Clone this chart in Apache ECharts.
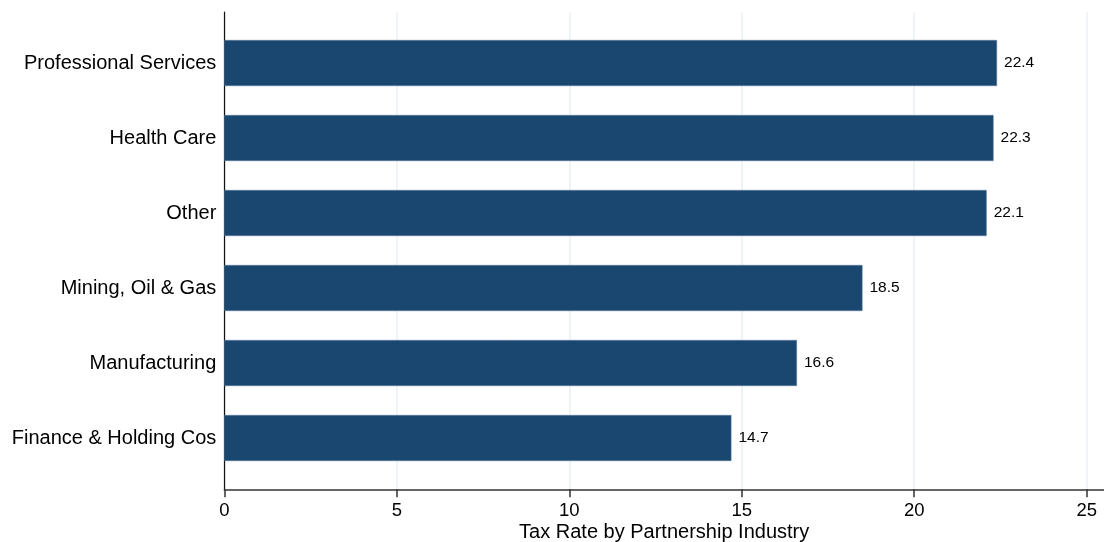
<!DOCTYPE html>
<html>
<head>
<meta charset="utf-8">
<script src="https://cdn.jsdelivr.net/npm/echarts@6/dist/echarts.min.js"></script>
<style>html,body{margin:0;padding:0;background:#fff}#c{width:1104px;height:542px}</style>
</head>
<body>
<div id="c"></div>
<script>
const categories = ["Professional Services", "Health Care", "Other", "Mining, Oil & Gas", "Manufacturing", "Finance & Holding Cos"];
const taxRates = [22.4, 22.3, 22.1, 18.5, 16.6, 14.7];
const xTicks = [0, 5, 10, 15, 20, 25];
const xTitle = "Tax Rate by Partnership Industry";

const font = "'Liberation Sans', Arial, sans-serif";
const chart = echarts.init(document.getElementById('c'));
chart.setOption({
  animation: false,
  backgroundColor: '#fff',
  grid: [
    {left: 224.3, right: 17.3, top: 12, bottom: 52.7, outerBoundsMode: 'none', containLabel: false},
    {left: 224.3, right: 0, top: 12, bottom: 52.7, outerBoundsMode: 'none', containLabel: false},
    {left: 224.3, right: 17.3, top: 25.5, height: 450, outerBoundsMode: 'none', containLabel: false}
  ],
  xAxis: [
    {gridIndex: 0, type: 'value', min: xTicks[0], max: xTicks[xTicks.length - 1], interval: 5,
     axisLine: {show: false},
     axisTick: {show: true, length: 8, lineStyle: {color: '#333', width: 1.5}},
     axisLabel: {margin: 12, fontSize: 18.5, color: '#000', fontFamily: font},
     splitLine: {show: true, lineStyle: {color: '#eaf2f3', width: 1.5}}},
    {gridIndex: 1, type: 'value', min: 0, max: 1,
     axisLine: {show: true, lineStyle: {color: '#333', width: 1.5}},
     axisTick: {show: false}, axisLabel: {show: false}, splitLine: {show: false},
     name: xTitle, nameLocation: 'middle', nameGap: 33,
     nameTextStyle: {fontSize: 20, color: '#000', fontFamily: font}},
    {gridIndex: 2, type: 'value', min: xTicks[0], max: xTicks[xTicks.length - 1], show: false}
  ],
  yAxis: [
    {gridIndex: 0, type: 'value', axisLine: {show: true, lineStyle: {color: '#111', width: 1.2}},
     axisTick: {show: false}, axisLabel: {show: false}, splitLine: {show: false}},
    {gridIndex: 1, type: 'value', show: false},
    {gridIndex: 2, type: 'category', data: categories, inverse: true,
     axisLine: {show: false}, axisTick: {show: false},
     axisLabel: {margin: 8, fontSize: 20, color: '#000', fontFamily: font}}
  ],
  series: [{
    type: 'bar', xAxisIndex: 2, yAxisIndex: 2,
    data: taxRates, barWidth: 46,
    itemStyle: {color: '#1a476f', borderColor: '#5f7f9c', borderWidth: 0.5},
    label: {show: true, position: 'right', distance: 7, fontSize: 15.5, color: '#000', fontFamily: font,
      formatter: p => p.value.toFixed(1)}
  }]
});
</script>
</body>
</html>
